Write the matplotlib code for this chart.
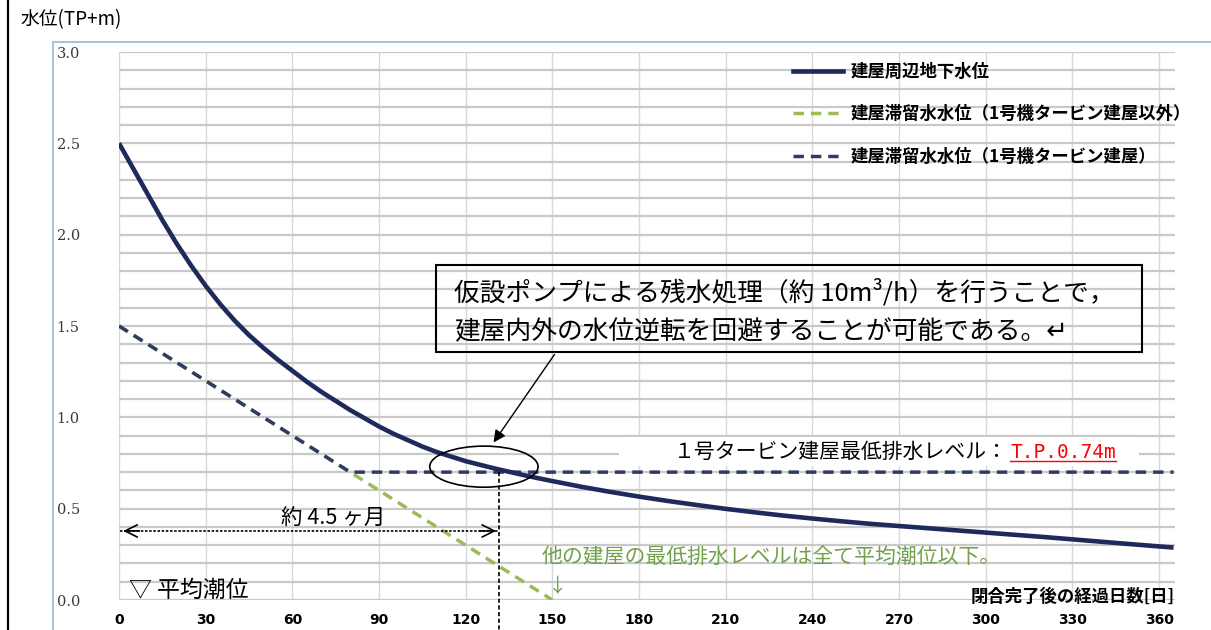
import matplotlib
matplotlib.use("Agg")
import matplotlib.pyplot as plt
from matplotlib.lines import Line2D
from matplotlib.patches import Ellipse, Rectangle

plt.rcParams['font.family'] = ['Noto Sans CJK JP', 'DejaVu Sans']

# groundwater level around the buildings (solid navy)
days_gw = [0, 5, 10, 15, 20, 25, 30, 35, 40, 45, 50, 55, 60, 65, 70, 75, 80,
           85, 90, 95, 100, 105, 110, 115, 120, 125, 130, 135, 140, 145, 150,
           160, 170, 180, 190, 200, 210, 220, 230, 240, 250, 260, 270, 280,
           290, 300, 310, 320, 330, 340, 350, 365]
level_gw = [2.50, 2.36, 2.22, 2.08, 1.95, 1.83, 1.72, 1.62, 1.53, 1.45, 1.38,
            1.315, 1.255, 1.195, 1.14, 1.09, 1.04, 0.995, 0.95, 0.91, 0.875,
            0.84, 0.81, 0.785, 0.76, 0.74, 0.72, 0.702, 0.684, 0.667, 0.651,
            0.620, 0.592, 0.566, 0.542, 0.520, 0.499, 0.480, 0.462, 0.446,
            0.431, 0.417, 0.405, 0.393, 0.381, 0.369, 0.357, 0.345, 0.332,
            0.319, 0.306, 0.287]

# stagnant water level, buildings other than unit 1 turbine building
days_other = [0, 150]
level_other = [1.5, 0.0]

# stagnant water level, unit 1 turbine building
days_t1 = [0, 80, 365]
level_t1 = [1.5, 0.70, 0.70]

x_ticks = [0, 30, 60, 90, 120, 150, 180, 210, 240, 270, 300, 330, 360]
y_ticks = [0.0, 0.5, 1.0, 1.5, 2.0, 2.5, 3.0]
y_minor = [i / 10 for i in range(31)]

legend_labels = ['建屋周辺地下水位',
                 '建屋滞留水水位（1号機タービン建屋以外）',
                 '建屋滞留水水位（1号機タービン建屋）']

navy = '#1f2a5c'
navy_dash = '#2f3b66'
green = '#9bbb59'
text_green = '#72a04c'

W, H = 1211, 630
fig = plt.figure(figsize=(W / 100, H / 100), dpi=100)
fig.patch.set_facecolor('white')
ax = fig.add_axes([119 / W, 30 / H, (1175 - 119) / W, (600 - 52) / H])

ax.set_xlim(0, 365.5)
ax.set_ylim(0, 3.0)

ax.set_xticks(x_ticks)
ax.set_xticklabels([str(v) for v in x_ticks], fontsize=10, fontweight='bold',
                   family='DejaVu Sans')
ax.set_yticks(y_ticks)
ax.set_yticklabels(['%.1f' % v for v in y_ticks], fontsize=10.5, color='#3a3a3a',
                   family='DejaVu Serif', ha='left')
ax.set_yticks(y_minor, minor=True)
ax.tick_params(axis='both', which='both', length=0)
ax.tick_params(axis='x', pad=9)
ax.tick_params(axis='y', pad=45)
for s in ax.spines.values():
    s.set_visible(False)

ax.set_axisbelow(True)
ax.grid(which='both', axis='y', color='#c9c9c9', lw=1.6)
ax.grid(which='major', axis='x', color='#d8d8d8', lw=1.0)

# series
ax.plot(days_other, level_other, color=green, lw=2.5, ls=(0, (3, 2)),
        label=legend_labels[1], zorder=3)
ax.plot(days_t1, level_t1, color=navy_dash, lw=2.5, ls=(0, (3, 2)),
        label=legend_labels[2], zorder=4)
ax.plot(days_gw, level_gw, color=navy, lw=3.3, label=legend_labels[0],
        zorder=5, solid_capstyle='butt')

handles = [Line2D([], [], color=navy, lw=3.3),
           Line2D([], [], color=green, lw=2.5, ls=(0, (3, 2))),
           Line2D([], [], color=navy_dash, lw=2.5, ls=(0, (3, 2)))]
ax.legend(handles, legend_labels, loc='upper left',
          bbox_to_anchor=(793 / W, 1 - 63 / H), bbox_transform=fig.transFigure,
          frameon=False, handlelength=2.9, handletextpad=0.4,
          labelspacing=1.4, borderaxespad=0, borderpad=0,
          prop={'size': 12.5, 'weight': 'bold'})

# axis titles
fig.text(20 / W, 1 - 20 / H, '水位(TP+m)', fontsize=13.5, va='center', ha='left')
ax.text(1.0, 3 / 548, '閉合完了後の経過日数[日]', transform=ax.transAxes,
        fontsize=12.5, fontweight='bold', ha='right', va='center')

# frame lines of the chart area
fig.add_artist(Line2D([8 / W, 8 / W], [0, 1], color='black', lw=1.6))
fig.add_artist(Line2D([53 / W, 53 / W], [0, 1 - 42 / H], color='#a9c3db', lw=1.5))
fig.add_artist(Line2D([53 / W, 1], [1 - 42 / H, 1 - 42 / H], color='#a9c3db', lw=1.5))

# explanation box
ax.add_patch(Rectangle((109.7, 1.357), 244.4, 0.477, fill=False,
                       edgecolor='black', lw=1.5, zorder=6))
ax.text(116, 1.68, '仮設ポンプによる残水処理（約 10m³/h）を行うことで，',
        fontsize=18.5, va='center', ha='left', zorder=7)
ax.text(116, 1.467, '建屋内外の水位逆転を回避することが可能である。↵',
        fontsize=18.5, va='center', ha='left', zorder=7)
ax.annotate('', xy=(129.1, 0.85), xytext=(151.3, 1.357),
            arrowprops=dict(arrowstyle='-|>', color='black', lw=1.0,
                            mutation_scale=18), zorder=7)
ax.add_patch(Ellipse((126.3, 0.73), 37.5, 0.225, fill=False,
                     edgecolor='black', lw=1.2, zorder=7))

# turbine building level label
ax.add_patch(Rectangle((173.0, 0.733), 180.0, 0.16, facecolor='white',
                       edgecolor='none', zorder=6))
ax.text(307.5, 0.81, '１号タービン建屋最低排水レベル：', fontsize=15,
        ha='right', va='center', zorder=7)
red = ax.text(308.5, 0.81, 'T.P.0.74m', fontsize=14, color='red',
              family='DejaVu Sans Mono', ha='left', va='center', zorder=7)

# 4.5 months span
ax.plot([131.5, 131.5], [0.70, -0.165], color='black', lw=1.2,
        ls=(0, (2.5, 1.5)), clip_on=False, zorder=6)
ax.plot([0.5, 131.5], [0.378, 0.378], color='black', lw=1.2,
        ls=(0, (1.5, 1.0)), zorder=6)
ax.annotate('', xy=(0.5, 0.378), xytext=(8, 0.378),
            arrowprops=dict(arrowstyle='->', color='black', lw=1.2,
                            mutation_scale=22), zorder=6)
ax.annotate('', xy=(131.5, 0.378), xytext=(124, 0.378),
            arrowprops=dict(arrowstyle='->', color='black', lw=1.2,
                            mutation_scale=22), zorder=6)
ax.text(56, 0.385, '約 4.5 ヶ月', fontsize=15.5, ha='left', va='bottom', zorder=7)

ax.text(3.5, 0.055, '▽ 平均潮位', fontsize=16.5, ha='left', va='center', zorder=7)
ax.text(146.4, 0.235, '他の建屋の最低排水レベルは全て平均潮位以下。',
        fontsize=15, color=text_green, ha='left', va='center', zorder=7)
ax.text(148.5, 0.075, '↓', fontsize=14, color=text_green, ha='left',
        va='center', zorder=7)

# underline the red level value
fig.canvas.draw()
bb = red.get_window_extent()
fig.add_artist(Line2D([bb.x0 / W, bb.x1 / W], [(bb.y0 + 1) / H, (bb.y0 + 1) / H],
                      color='red', lw=1.0))

fig.savefig('out.png', dpi=100)
